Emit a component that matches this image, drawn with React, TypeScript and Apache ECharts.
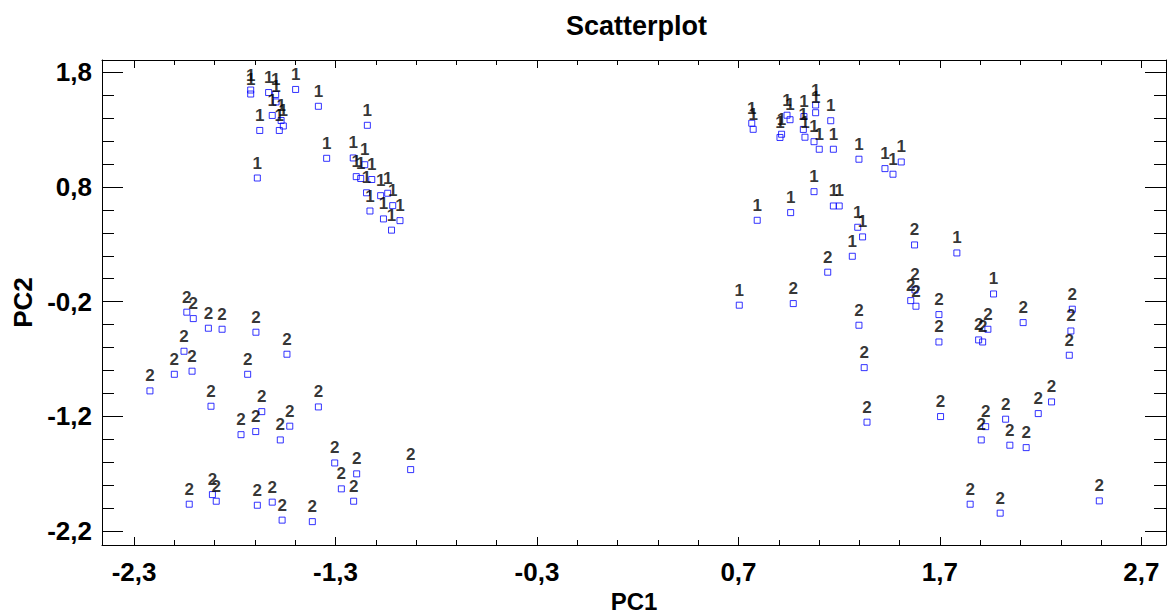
import React, { useEffect, useRef } from "react";
import * as echarts from "echarts";

// Group "1" points [PC1, PC2]
const group1: [number, number][] = [
  [-1.721, 1.647], [-1.721, 1.612], [-1.632, 1.625], [-1.597, 1.608], [-1.595, 1.543],
  [-1.498, 1.652], [-1.385, 1.505], [-1.614, 1.425], [-1.570, 1.381], [-1.559, 1.333],
  [-1.676, 1.294], [-1.579, 1.294], [-1.142, 1.339], [-1.688, 0.879],
  [-1.344, 1.051], [-1.212, 1.054], [-1.155, 0.995], [-1.197, 0.891], [-1.175, 0.875],
  [-1.120, 0.866], [-1.146, 0.750], [-1.076, 0.725], [-1.041, 0.746], [-1.129, 0.591],
  [-1.016, 0.638], [-1.062, 0.522], [-0.980, 0.507], [-1.022, 0.424],
  [0.766, 1.357], [0.773, 1.304], [0.914, 1.261], [0.906, 1.233], [0.941, 1.427],
  [0.956, 1.388], [1.025, 1.416], [1.022, 1.303], [1.030, 1.235], [1.083, 1.516],
  [1.083, 1.449], [1.075, 1.196], [1.101, 1.130], [1.158, 1.379], [1.171, 1.130],
  [1.298, 1.043], [1.427, 0.961], [1.467, 0.912], [1.508, 1.019], [1.075, 0.760],
  [1.171, 0.635], [1.200, 0.635], [1.292, 0.449], [1.316, 0.365], [1.265, 0.196],
  [0.959, 0.577], [0.793, 0.510], [0.704, -0.231], [1.784, 0.225], [1.966, -0.133],
];

// Group "2" points [PC1, PC2]
const group2: [number, number][] = [
  [-2.038, -0.292], [-2.006, -0.348], [-1.931, -0.432], [-1.863, -0.441], [-1.695, -0.467],
  [-1.541, -0.659], [-2.052, -0.633], [-2.100, -0.834], [-2.012, -0.807], [-1.736, -0.834],
  [-2.221, -0.979], [-1.918, -1.113], [-1.666, -1.160], [-1.385, -1.119], [-1.769, -1.361],
  [-1.696, -1.334], [-1.574, -1.407], [-1.527, -1.287], [-1.304, -1.608], [-1.195, -1.703],
  [-0.927, -1.666], [-1.271, -1.834], [-1.210, -1.942], [-2.026, -1.968], [-1.911, -1.884],
  [-1.892, -1.942], [-1.688, -1.977], [-1.614, -1.950], [-1.565, -2.107], [-1.415, -2.120],
  [1.143, 0.057], [0.972, -0.217], [1.574, 0.295], [1.576, -0.098], [1.555, -0.191],
  [1.581, -0.240], [1.695, -0.313], [1.695, -0.552], [1.298, -0.406], [1.324, -0.776],
  [1.892, -0.534], [1.912, -0.552], [1.938, -0.441], [2.113, -0.383], [2.357, -0.266],
  [2.350, -0.456], [2.342, -0.668], [2.254, -1.075], [1.338, -1.252], [1.703, -1.203],
  [1.927, -1.291], [1.905, -1.407], [2.026, -1.226], [2.047, -1.453], [2.128, -1.474],
  [2.188, -1.177], [1.850, -1.968], [1.999, -2.046], [2.491, -1.939],
];

const xTicks = [-2.3, -1.3, -0.3, 0.7, 1.7, 2.7];
const yTicks = [-2.2, -1.2, -0.2, 0.8, 1.8];
const xRange = [-2.459, 2.822];
const yRange = [-2.324, 1.909];

const minorsOf = (majors: number[]) => {
  const out: number[] = [];
  for (let i = 0; i < majors.length - 1; i++) {
    for (let k = 1; k < 5; k++) out.push(+(majors[i] + (k * (majors[i + 1] - majors[i])) / 5).toFixed(4));
  }
  return out;
};

const fmt = (v: number) => v.toFixed(1).replace(".", ",");
const FONT = "Arial, 'Liberation Sans', sans-serif";

export default function App() {
  const ref = useRef<HTMLDivElement>(null);
  useEffect(() => {
    if (!ref.current) return;
    const chart = echarts.init(ref.current, null, { renderer: "svg" });
    const xMinor = minorsOf(xTicks);
    const yMinor = minorsOf(yTicks);
    const line = { lineStyle: { color: "#000", width: 1 } };
    const labelStyle = { color: "#000", fontWeight: "bold" as const, fontSize: 26, fontFamily: FONT };
    const mkX = (pos: "bottom" | "top", vals: number[], len: number, main: boolean) => ({
      type: "value" as const,
      position: pos,
      min: xRange[0],
      max: xRange[1],
      axisLine: { show: main, onZero: false, ...line },
      axisTick: { show: true, inside: true, length: len, customValues: vals, lineStyle: { color: "#000" } },
      axisLabel: main && pos === "bottom"
        ? { show: true, customValues: xTicks, formatter: fmt, margin: 14, ...labelStyle }
        : { show: false },
      splitLine: { show: false },
      name: main && pos === "bottom" ? "PC1" : "",
      nameLocation: "middle" as const,
      nameGap: 36,
      nameTextStyle: { ...labelStyle, fontSize: 24, lineHeight: 24 },
    });
    const mkY = (pos: "left" | "right", vals: number[], len: number, main: boolean) => ({
      type: "value" as const,
      position: pos,
      min: yRange[0],
      max: yRange[1],
      axisLine: { show: main, onZero: false, ...line },
      axisTick: { show: true, inside: true, length: len, customValues: vals, lineStyle: { color: "#000" } },
      axisLabel: main && pos === "left"
        ? { show: true, customValues: yTicks, formatter: fmt, margin: 10, ...labelStyle }
        : { show: false },
      splitLine: { show: false },
      name: main && pos === "left" ? "PC2" : "",
      nameLocation: "middle" as const,
      nameGap: 58,
      nameTextStyle: labelStyle,
    });
    const mkSeries = (name: string, data: [number, number][]) => ({
      type: "scatter" as const,
      name,
      data,
      symbol: "rect",
      symbolSize: 6,
      itemStyle: { color: "rgba(255,255,255,0)", borderColor: "#0000ff", borderWidth: 1 },
      label: {
        show: true,
        position: "top" as const,
        distance: 3,
        formatter: name,
        color: "#000",
        fontWeight: "bold" as const,
        fontSize: 17,
        fontFamily: FONT,
      },
      emphasis: { disabled: true },
    });
    chart.setOption({
      animation: false,
      title: {
        text: "Scatterplot",
        left: 561,
        top: 7,
        textStyle: { color: "#000", fontWeight: "bold", fontSize: 27, fontFamily: FONT },
      },
      grid: { left: 102, right: 2, top: 60, bottom: 69, containLabel: false, outerBoundsMode: "none" },
      xAxis: [
        mkX("bottom", xTicks, 8, true),
        mkX("bottom", xMinor, 5, false),
        mkX("top", xTicks, 8, true),
        mkX("top", xMinor, 5, false),
      ],
      yAxis: [
        mkY("left", yTicks, 21, true),
        mkY("left", yMinor, 12, false),
        mkY("right", yTicks, 21, true),
        mkY("right", yMinor, 12, false),
      ],
      series: [mkSeries("1", group1), mkSeries("2", group2)],
    });
    return () => chart.dispose();
  }, []);
  return (
    <div
      ref={ref}
      style={{ position: "fixed", left: 0, top: 0, width: 1168, height: 614, background: "#fff" }}
    />
  );
}
